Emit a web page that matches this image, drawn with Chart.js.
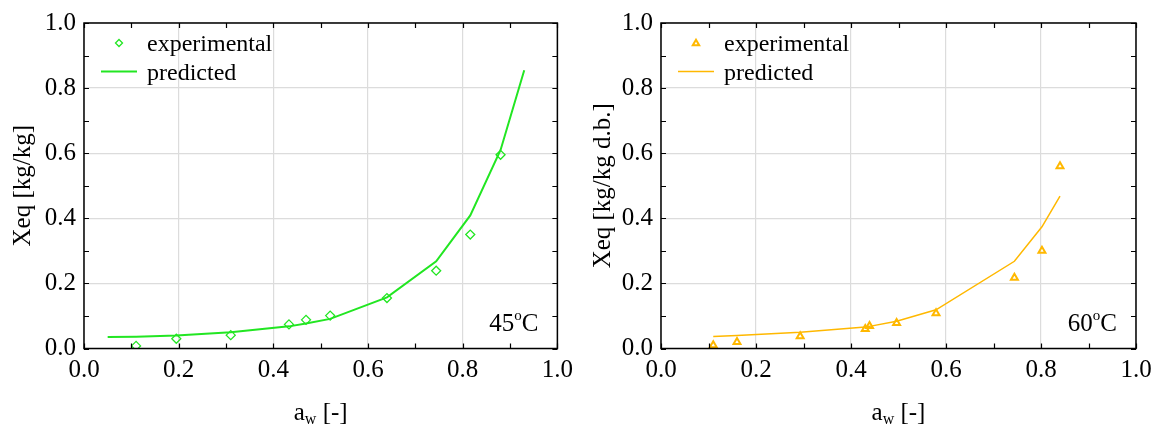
<!DOCTYPE html>
<html>
<head>
<meta charset="utf-8">
<script src="https://cdn.jsdelivr.net/npm/chart.js@4"></script>
<style>
  html, body { margin: 0; padding: 0; background: #fff; }
  #wrap { position: relative; width: 1161px; height: 425px; }
  #c45 { position: absolute; left: 0; top: 0; }
  #c60 { position: absolute; left: 580px; top: 0; }
</style>
</head>
<body>
<div id="wrap">
  <canvas id="c45" width="580" height="425"></canvas>
  <canvas id="c60" width="581" height="425"></canvas>
</div>
<script>
// 45 C
var awExp45 = [0.11, 0.195, 0.31, 0.433, 0.469, 0.52, 0.64, 0.744, 0.816, 0.88];
var xeqExp45 = [0.008, 0.03, 0.041, 0.074, 0.088, 0.101, 0.155, 0.239, 0.35, 0.595];
var awPred45 = [0.05, 0.11, 0.195, 0.31, 0.433, 0.469, 0.52, 0.64, 0.744, 0.816, 0.88, 0.93];
var xeqPred45 = [0.035, 0.036, 0.04, 0.05, 0.068, 0.077, 0.091, 0.157, 0.268, 0.409, 0.61, 0.855];

// 60 C
var awExp60 = [0.11, 0.16, 0.293, 0.43, 0.439, 0.496, 0.579, 0.744, 0.802, 0.84];
var xeqExp60 = [0.01, 0.02, 0.038, 0.06, 0.069, 0.078, 0.108, 0.217, 0.30, 0.56];
var awPred60 = [0.11, 0.16, 0.293, 0.43, 0.439, 0.496, 0.579, 0.744, 0.802, 0.84];
var xeqPred60 = [0.037, 0.04, 0.05, 0.066, 0.068, 0.084, 0.119, 0.268, 0.374, 0.468];

var tickValues = [0, 0.1, 0.2, 0.3, 0.4, 0.5, 0.6, 0.7, 0.8, 0.9, 1.0];

var serif = '"Liberation Serif", "Times New Roman", serif';

function pts(xs, ys) {
    return xs.map(function (x, i) { return { x: x, y: ys[i] }; });
}

// frame, inner ticks, titles, legend and temperature label
var decor = {
    id: 'decor',
    afterDraw: function (chart, args, o) {
        var c = chart.ctx, a = chart.chartArea;
        var xs = chart.scales.x, ys = chart.scales.y;
        c.save();
        c.strokeStyle = '#000';
        c.lineWidth = 1.2;
        c.beginPath();
        tickValues.forEach(function (v) {
            var px = Math.round(xs.getPixelForValue(v)) + 0.5;
            var py = Math.round(ys.getPixelForValue(v)) + 0.5;
            c.moveTo(px, a.bottom); c.lineTo(px, a.bottom - 5);
            c.moveTo(px, a.top); c.lineTo(px, a.top + 5);
            c.moveTo(a.left, py); c.lineTo(a.left + 5, py);
            c.moveTo(a.right, py); c.lineTo(a.right - 5, py);
        });
        c.stroke();
        c.lineWidth = 1.5;
        c.strokeRect(a.left, a.top, a.right - a.left, a.bottom - a.top);

        c.fillStyle = '#000';
        // y title
        c.save();
        c.translate(o.yTitleX, (a.top + a.bottom) / 2);
        c.rotate(-Math.PI / 2);
        c.font = '25px ' + serif;
        c.textAlign = 'center';
        c.textBaseline = 'middle';
        c.fillText(o.yTitle, 0, 0);
        c.restore();

        // x title with subscript
        c.font = '25px ' + serif;
        var wa = c.measureText('a').width;
        c.font = '16px ' + serif;
        var ww = c.measureText('w').width;
        c.font = '25px ' + serif;
        var wr = c.measureText(' [-]').width;
        var x0 = (a.left + a.right) / 2 - (wa + ww + wr) / 2;
        c.textAlign = 'left';
        c.textBaseline = 'alphabetic';
        c.fillText('a', x0, 420);
        c.font = '16px ' + serif;
        c.fillText('w', x0 + wa, 424);
        c.font = '25px ' + serif;
        c.fillText(' [-]', x0 + wa + ww, 420);

        // temperature label
        c.font = '25px ' + serif;
        var wt = c.measureText(o.temp).width;
        var wc = c.measureText('C').width;
        c.font = '15px ' + serif;
        var wo = c.measureText('o').width;
        var tx = a.right - 19 - wt - wo - wc;
        c.font = '25px ' + serif;
        c.fillText(o.temp, tx, 331);
        c.font = '15px ' + serif;
        c.fillText('o', tx + wt, 320);
        c.font = '25px ' + serif;
        c.fillText('C', tx + wt + wo, 331);

        // legend
        var ds0 = chart.data.datasets[0], ds1 = chart.data.datasets[1];
        var mx = a.left + 35;
        c.strokeStyle = ds0.borderColor;
        c.lineWidth = ds0.pointBorderWidth;
        c.beginPath();
        if (ds0.pointStyle === 'rectRot') {
            var r = 3.5;
            c.moveTo(mx, 43 - r); c.lineTo(mx + r, 43); c.lineTo(mx, 43 + r); c.lineTo(mx - r, 43); c.closePath();
        } else {
            var r2 = 3.2;
            c.moveTo(mx, 43 - r2); c.lineTo(mx + r2, 43 + r2 * 0.7); c.lineTo(mx - r2, 43 + r2 * 0.7); c.closePath();
        }
        c.stroke();
        c.strokeStyle = ds1.borderColor;
        c.lineWidth = ds1.borderWidth;
        c.beginPath();
        c.moveTo(a.left + 17, 71.5); c.lineTo(a.left + 53, 71.5);
        c.stroke();
        c.fillStyle = '#000';
        c.font = '24px ' + serif;
        c.fillText('experimental', a.left + 63, 51);
        c.fillText('predicted', a.left + 63, 80);
        c.restore();
    }
};

function makeChart(id, expX, expY, predX, predY, color, style, ptRadius, ptBorder, lineW, opts) {
    var canvas = document.getElementById(id);
    return new Chart(canvas.getContext('2d'), {
        type: 'scatter',
        data: {
            datasets: [{
                label: 'experimental',
                data: pts(expX, expY),
                pointStyle: style,
                pointRadius: ptRadius,
                pointBorderWidth: ptBorder,
                borderColor: color,
                backgroundColor: 'rgba(0,0,0,0)',
                showLine: false
            }, {
                label: 'predicted',
                data: pts(predX, predY),
                showLine: true,
                pointRadius: 0,
                borderColor: color,
                borderWidth: lineW,
                tension: 0
            }]
        },
        options: {
            responsive: false,
            animation: false,
            layout: { padding: { left: 0, top: 19, right: canvas.width - opts.right, bottom: 0 } },
            plugins: {
                legend: { display: false },
                tooltip: { enabled: false },
                decor: opts
            },
            scales: {
                x: {
                    type: 'linear',
                    min: 0, max: 1,
                    afterBuildTicks: function (s) { s.ticks = tickValues.map(function (v) { return { value: v }; }); },
                    afterFit: function (s) { s.height = 425 - 348.5; },
                    ticks: {
                        autoSkip: false,
                        maxRotation: 0,
                        padding: 7,
                        color: '#000',
                        font: { family: serif, size: 25 },
                        callback: function (v, i) { return i % 2 === 0 ? v.toFixed(1) : ''; }
                    },
                    grid: {
                        drawTicks: false,
                        color: function (ctx) { return ctx.index % 2 === 0 ? '#dcdcdc' : 'rgba(0,0,0,0)'; },
                        lineWidth: 1.2
                    },
                    border: { display: false }
                },
                y: {
                    type: 'linear',
                    min: 0, max: 1,
                    afterBuildTicks: function (s) { s.ticks = tickValues.map(function (v) { return { value: v }; }); },
                    afterFit: function (s) { s.width = opts.left; },
                    ticks: {
                        autoSkip: false,
                        padding: 8,
                        color: '#000',
                        font: { family: serif, size: 25 },
                        callback: function (v, i) { return i % 2 === 0 ? v.toFixed(1) : ''; }
                    },
                    grid: {
                        drawTicks: false,
                        color: function (ctx) { return ctx.index % 2 === 0 ? '#dcdcdc' : 'rgba(0,0,0,0)'; },
                        lineWidth: 1.2
                    },
                    border: { display: false }
                }
            }
        },
        plugins: [decor]
    });
}

makeChart('c45', awExp45, xeqExp45, awPred45, xeqPred45, '#22e622', 'rectRot', 4.5, 1.3, 2,
    { left: 84, right: 559, yTitle: 'Xeq [kg/kg]', yTitleX: 23, temp: '45' });
makeChart('c60', awExp60, xeqExp60, awPred60, xeqPred60, '#ffb800', 'triangle', 4, 2, 1.5,
    { left: 81, right: 556, yTitle: 'Xeq [kg/kg d.b.]', yTitleX: 23, temp: '60' });
</script>
</body>
</html>
